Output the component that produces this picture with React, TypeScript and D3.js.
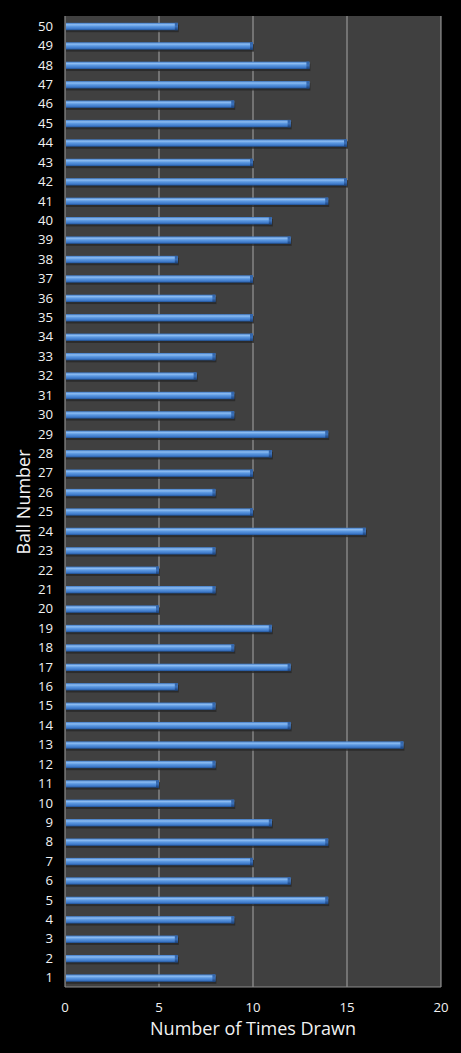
import React, { useEffect } from "react";
import * as d3 from "d3";

const balls: number[] = Array.from({ length: 50 }, (_, i) => i + 1);
const counts: number[] = [
  8, 6, 6, 9, 14, 12, 10, 14, 11, 9,
  5, 8, 18, 12, 8, 6, 12, 9, 11, 5,
  8, 5, 8, 16, 10, 8, 10, 11, 14, 9,
  9, 7, 8, 10, 10, 8, 10, 6, 12, 11,
  14, 15, 10, 15, 12, 9, 13, 13, 10, 6,
];
const xTicks: number[] = [0, 5, 10, 15, 20];

const W = 461;
const H = 1053;
const left = 65;
const right = 441;
const top = 16;
const bottom = 987;
const font = "'Open Sans', 'DejaVu Sans', sans-serif";

export default function App() {
  useEffect(() => {
    document.body.style.margin = "0";
    document.body.style.background = "#000";
  }, []);

  const x = d3.scaleLinear().domain([0, 20]).range([left, right]);
  const y = d3
    .scaleBand<number>()
    .domain([...balls].reverse())
    .range([top, bottom])
    .paddingInner(0.62)
    .paddingOuter(0.31);
  const bh = y.bandwidth();

  return (
    <svg width={W} height={H} style={{ display: "block", background: "#000" }}>
      <defs>
        <linearGradient id="barg" x1="0" y1="0" x2="0" y2="1">
          <stop offset="0" stopColor="#3d78c4" />
          <stop offset="0.25" stopColor="#8cbcf2" />
          <stop offset="0.5" stopColor="#5a97e0" />
          <stop offset="0.8" stopColor="#3d78c8" />
          <stop offset="1" stopColor="#1f4f90" />
        </linearGradient>
        <linearGradient id="capg" x1="0" y1="0" x2="0" y2="1">
          <stop offset="0" stopColor="#2f62a8" />
          <stop offset="0.5" stopColor="#3b70b8" />
          <stop offset="1" stopColor="#1a4078" />
        </linearGradient>
      </defs>
      <rect x={0} y={0} width={W} height={H} fill="#000" />
      <rect x={left} y={top} width={right - left} height={bottom - top} fill="#404040" />
      {xTicks.slice(1).map((t) => (
        <line key={t} x1={x(t)} x2={x(t)} y1={top} y2={bottom} stroke="#a6a6a6" strokeWidth={1} />
      ))}
      <line x1={left} x2={left} y1={top} y2={bottom} stroke="#8c8c8c" strokeWidth={1.2} />
      <line x1={left} x2={right} y1={bottom} y2={bottom} stroke="#8c8c8c" strokeWidth={1.2} />
      {balls.map((b, i) => {
        const y0 = (y(b) as number) + 0.8;
        const x1 = x(counts[i]);
        return (
          <g key={b}>
            <rect x={left + 1} y={y0 + 2} width={x1 - left} height={bh} fill="#262626" opacity={0.8} />
            <rect x={left + 1} y={y0} width={x1 - left - 1} height={bh} fill="url(#barg)" />
            <rect x={x1 - 3} y={y0} width={3} height={bh} fill="url(#capg)" />
          </g>
        );
      })}
      {balls.map((b) => (
        <text
          key={b}
          x={53}
          y={(y(b) as number) + bh / 2 + 1.5}
          textAnchor="end"
          dominantBaseline="middle"
          fill="#f2f2f2"
          fontSize={13.2}
          fontFamily={font}
        >
          {b}
        </text>
      ))}
      {xTicks.map((t) => (
        <text
          key={t}
          x={x(t)}
          y={1008}
          textAnchor="middle"
          dominantBaseline="middle"
          fill="#f2f2f2"
          fontSize={13.2}
          fontFamily={font}
        >
          {t}
        </text>
      ))}
      <text
        x={253}
        y={1030}
        textAnchor="middle"
        dominantBaseline="middle"
        fill="#f2f2f2"
        fontSize={18}
        fontFamily={font}
      >
        Number of Times Drawn
      </text>
      <text
        transform="translate(25,502) rotate(-90)"
        textAnchor="middle"
        dominantBaseline="middle"
        fill="#f2f2f2"
        fontSize={18}
        fontFamily={font}
      >
        Ball Number
      </text>
    </svg>
  );
}
